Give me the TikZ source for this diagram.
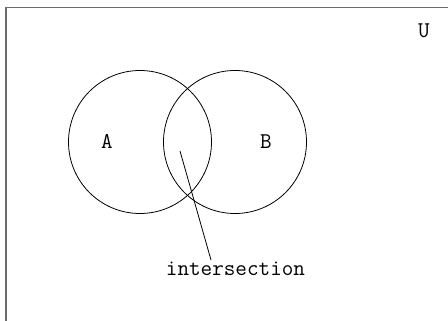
\documentclass[tikz,border=0pt]{standalone}
\begin{document}
\begin{tikzpicture}[x=1pt,y=-1pt,
  lbl/.style={inner sep=0pt,font=\ttfamily\fontsize{22.5}{25}\selectfont},
  setc/.style={draw=black,line width=0.8pt}]
\useasboundingbox (0,0) rectangle (448,321);
\begin{scope}
\clip (0,0) rectangle (448,321);
\draw[draw=gray!85!black,line width=1.8pt] (6,7.5) rectangle (460,340);
\end{scope}
\node[setc,circle,minimum size=143pt,inner sep=0pt] (cA) at (140,142) {};
\node[setc,circle,minimum size=143pt,inner sep=0pt] (cB) at (235,142) {};
\node[lbl,anchor=base] (A) at (107,149) {A};
\node[lbl,anchor=base] (B) at (266,149) {B};
\node[lbl,anchor=base] (U) at (424,38) {U};
\node[lbl,anchor=base] (I) at (235.5,276) {intersection};
\coordinate (p) at (180,151);
\coordinate (q) at (211,260);
\draw[line width=0.8pt] (p) -- (q);
\end{tikzpicture}
\end{document}
